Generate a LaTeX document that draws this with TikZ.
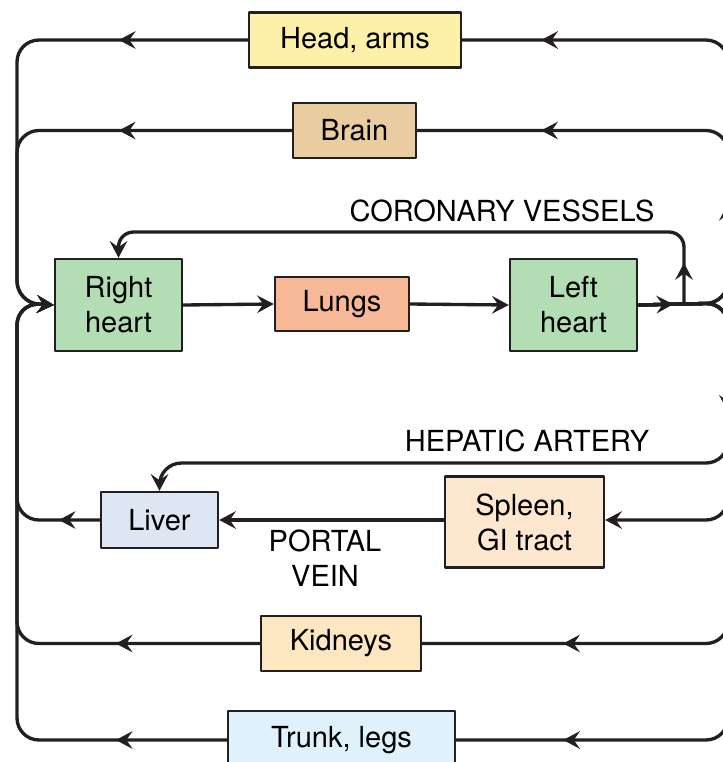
\documentclass[tikz,border=0pt]{standalone}
\usepackage{fontspec}
\setmainfont{TeX Gyre Heros}
\usetikzlibrary{arrows.meta,decorations.markings}

\definecolor{vesselcol}{RGB}{35,31,32}
\definecolor{headcol}{RGB}{253,241,170}
\definecolor{braincol}{RGB}{233,205,160}
\definecolor{heartcol}{RGB}{178,221,181}
\definecolor{lungcol}{RGB}{247,184,152}
\definecolor{livercol}{RGB}{221,231,243}
\definecolor{spleencol}{RGB}{253,231,206}
\definecolor{kidneycol}{RGB}{253,231,192}
\definecolor{trunkcol}{RGB}{223,242,252}

\tikzset{
  organ/.style={draw=vesselcol, line width=1.4pt, align=center, inner sep=0pt},
  vessel/.style={draw=vesselcol, line width=1.9pt, rounded corners=0.44cm},
  flow/.style={postaction={decorate, decoration={markings, mark=at position #1 with {\arrow{>}}}}},
}

\begin{document}
\begin{tikzpicture}[x=0.02cm, y=-0.02cm, >={Stealth[length=9.5pt,width=10pt,inset=3.5pt]}, line join=round, font=\fontsize{16.5}{20}\selectfont]
	\def\xl{17}  % collecting veins on the left
	\def\xr{728} % aorta, just past the right edge
	\clip (0,0) rectangle (723,762);

	% organs
	\node[organ, fill=headcol, minimum width=4.24cm, minimum height=1.1cm] (head) at (355,40) {Head, arms};
	\node[organ, fill=braincol, minimum width=2.46cm, minimum height=1.1cm] (brain) at (354.5,130.5) {Brain};
	\node[organ, fill=heartcol, minimum width=2.54cm, minimum height=1.84cm] (rheart) at (118.5,305) {Right\\heart};
	\node[organ, fill=lungcol, minimum width=2.68cm, minimum height=1.08cm] (lungs) at (342,304) {Lungs};
	\node[organ, fill=heartcol, minimum width=2.54cm, minimum height=1.84cm] (lheart) at (573.5,305) {Left\\heart};
	\node[organ, fill=livercol, minimum width=2.34cm, minimum height=1.12cm] (liver) at (159.5,520) {Liver};
	\node[organ, fill=spleencol, minimum width=3.18cm, minimum height=1.82cm] (spleen) at (524.5,522) {Spleen,\\GI tract};
	\node[organ, fill=kidneycol, minimum width=3.2cm, minimum height=1.1cm] (kidneys) at (341,643.5) {Kidneys};
	\node[organ, fill=trunkcol, minimum width=4.54cm, minimum height=1.16cm] (trunk) at (341.5,740) {Trunk, legs};

	\coordinate (vena) at (\xl,303);
	\coordinate (aorta) at (\xr,303);
	\coordinate (coronary) at (684,303);
	\coordinate (corY) at (0,232);
	\coordinate (hepY) at (0,463);

	% lungs
	\draw[vessel, ->] (rheart.east) -- (lungs.west);
	\draw[vessel, ->] (lungs.east) -- (lheart.west);

	% arterial side
	\draw[vessel, flow=0.7cm, flow=3.6cm, flow=-1.58cm] (lheart.east) -- (aorta) -- (aorta |- head.east) -- (head.east);
	\draw[vessel, flow=-2.48cm] (lheart.east) -- (aorta) -- (aorta |- brain.east) -- (brain.east);
	\draw[vessel, rounded corners=0.3cm, flow=0.8cm, ->] (coronary) -- (coronary |- corY) -- (rheart.north |- corY) -- (rheart.north);
	\draw[vessel, ->] (lheart.east) -- (aorta) -- (aorta |- hepY) -- (liver.north |- hepY) [rounded corners=0.26cm] -- (liver.north);
	\draw[vessel, ->] (lheart.east) -- (aorta) -- (\xr,520) -- (spleen.east |- 0,520);
	\draw[vessel, flow=-2.82cm] (lheart.east) -- (aorta) -- (aorta |- kidneys.east) -- (kidneys.east);
	\draw[vessel, flow=3.78cm, flow=-2.14cm] (lheart.east) -- (aorta) -- (aorta |- trunk.east) -- (trunk.east);

	% venous return
	\draw[vessel, ->] (spleen.west |- 0,520) -- (liver.east);
	\draw[vessel, flow=2.58cm, ->] (head.west) -- (vena |- head.west) -- (vena) -- (rheart.west);
	\draw[vessel, flow=3.46cm, ->] (brain.west) -- (vena |- brain.west) -- (vena) -- (rheart.west);
	\draw[vessel, flow=0.82cm, ->] (liver.west) -- (vena |- liver.west) -- (vena) -- (rheart.west);
	\draw[vessel, flow=2.88cm, ->] (kidneys.west) -- (vena |- kidneys.west) -- (vena) -- (rheart.west);
	\draw[vessel, flow=2.22cm, ->] (trunk.west) -- (vena |- trunk.west) -- (vena) -- (rheart.west);

	% vessel names
	\node (corlabel) at (502,211) {CORONARY VESSELS};
	\node (heplabel) at (527,441) {HEPATIC ARTERY};
	\node[align=center] (portlabel) at (325,558) {PORTAL\\VEIN};
\end{tikzpicture}
\end{document}
